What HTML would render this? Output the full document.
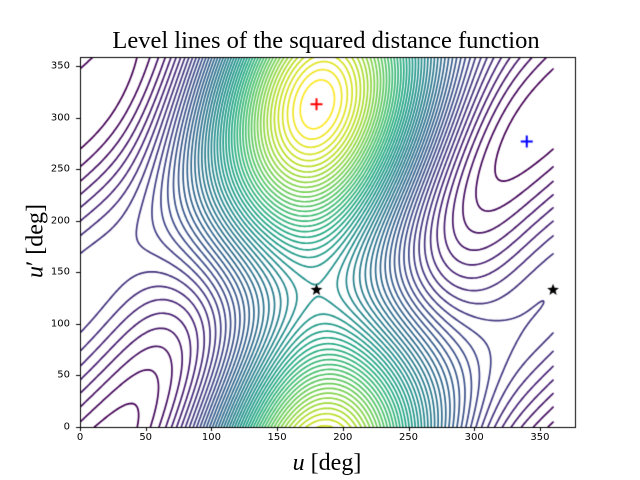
<!DOCTYPE html>
<html><head><meta charset="utf-8"><style>
html,body{margin:0;padding:0;background:#fff;}
#w{position:relative;width:640px;height:480px;overflow:hidden;font-family:"DejaVu Sans",sans-serif;}
canvas{position:absolute;left:0;top:0;}
.t{position:absolute;font-size:10px;color:#000;white-space:nowrap;}
.xl{transform:translateX(-50%);top:432px;}
.yl{right:570px;transform:translateY(-50%);}
.ser{font-family:"Liberation Serif","DejaVu Serif",serif;position:absolute;white-space:nowrap;}
</style></head><body><div id="w">
<canvas id="c" width="640" height="480"></canvas>
<div class="ser" style="left:326px;top:27px;transform:translateX(-50%);font-size:24.5px;">Level lines of the squared distance function</div>
<div class="ser" style="left:327px;top:450px;transform:translateX(-50%);font-size:24px;"><i>u</i> [deg]</div>
<div class="ser" style="left:36px;top:241px;transform:translate(-50%,-50%) rotate(-90deg);font-size:24px;"><i>u</i>′ [deg]</div>
<div id="lab"></div>
</div>
<script>
const X0=80,X1=576,Y0=427,Y1=57,SX=1.314,SY=1.031;
const px=u=>X0+u*SX, py=v=>Y0-v*SY;
const lab=document.getElementById('lab');
let h='';
for(let t=0;t<=350;t+=50){h+=`<div class="t xl" style="left:${px(t)}px">${t}</div>`;h+=`<div class="t yl" style="top:${py(t)}px">${t}</div>`;}
lab.innerHTML=h;
const D=Math.PI/180;
function B(u,v){const cu=Math.cos(u),su=Math.sin(u),cv=Math.cos(v),sv=Math.sin(v);
return [1,cu,su,Math.cos(2*u),cv,sv,Math.cos(2*v),cu*cv,cu*sv,su*cv,su*sv];}
function Bu(u,v){const cu=Math.cos(u),su=Math.sin(u),cv=Math.cos(v),sv=Math.sin(v);
return [0,-su,cu,-2*Math.sin(2*u),0,0,0,-su*cv,-su*sv,cu*cv,cu*sv];}
function Bv(u,v){const cu=Math.cos(u),su=Math.sin(u),cv=Math.cos(v),sv=Math.sin(v);
return [0,0,0,0,-sv,cv,-2*Math.sin(2*v),-cu*sv,cu*cv,-su*sv,su*cv];}
const rows=[],rhs=[];
function add(r,b,w){rows.push(r.map(x=>x*w));rhs.push(b*w);}
const crit=[[180,313,1],[340,277,0],[180,133,0.47],[360,133,0.18]];
for(const [u,v,val] of crit){add(Bu(u*D,v*D),0,6);add(Bv(u*D,v*D),0,6);add(B(u*D,v*D),val,3);}
const extra=[[76,360,.15],[114,360,.35],[152,360,.5],[190,360,.85],[228,360,.8],[253,360,.55],[304,360,.2],[342,360,.05],
[100,200,.33],[260,200,.3],[50,130,.15],[280,130,.2],[190,50,.65],[100,50,.25],[300,50,.12],[0,0,.03],
[130,230,.55],[230,100,.45],[150,30,.5],[250,60,.55],[30,250,.1],[60,300,.2],[300,250,.1],[260,250,.35],
[300,100,.2],[50,80,.08],[20,20,.03],[100,100,.25],[140,180,.45],[230,250,.55],[200,250,.7],
[330,50,.1],[270,0,.3],[320,0,.12],[120,300,.35],[90,150,.2],[220,180,.45],[160,100,.45]];
for(const [u,v,val] of extra)add(B(u*D,v*D),val,1);
const n=11;const M=[];for(let i=0;i<n;i++){M.push(new Array(n+1).fill(0));}
for(let k=0;k<rows.length;k++){const r=rows[k];for(let i=0;i<n;i++){for(let j=0;j<n;j++)M[i][j]+=r[i]*r[j];M[i][n]+=r[i]*rhs[k];}}
for(let i=0;i<n;i++)M[i][i]+=1e-6;
for(let i=0;i<n;i++){let p=i;for(let r=i+1;r<n;r++)if(Math.abs(M[r][i])>Math.abs(M[p][i]))p=r;[M[i],M[p]]=[M[p],M[i]];
for(let r=0;r<n;r++){if(r==i)continue;const f=M[r][i]/M[i][i];for(let c=i;c<=n;c++)M[r][c]-=f*M[i][c];}}
const co=M.map((r,i)=>r[n]/r[i]);
const f=(u,v)=>{const b=B(u*D,v*D);let s=0;for(let i=0;i<n;i++)s+=b[i]*co[i];return s;};
const N=241,st=360/(N-1);const G=[];let fmin=1e9,fmax=-1e9;
for(let i=0;i<N;i++){G.push([]);for(let j=0;j<N;j++){const z=f(i*st,j*st);G[i].push(z);if(z<fmin)fmin=z;if(z>fmax)fmax=z;}}
const stops=[[68,1,84],[72,36,117],[65,68,135],[53,95,141],[42,120,142],[33,145,140],[34,168,132],[68,191,112],[122,209,81],[189,223,38],[253,231,37]];
function vir(t){t=Math.max(0,Math.min(1,t))*10;const i=Math.min(9,Math.floor(t)),fr=t-i;const a=stops[i],b=stops[i+1];return `rgb(${a.map((x,k)=>Math.round(x+(b[k]-x)*fr)).join(',')})`;}
const ctx=document.getElementById('c').getContext('2d');
ctx.save();ctx.beginPath();ctx.rect(X0,Y1,X1-X0,Y0-Y1);ctx.clip();
ctx.lineWidth=1.7;ctx.lineCap='round';ctx.lineJoin='round';
const NL=50;
for(let l=1;l<NL;l++){
 const L=fmin+(fmax-fmin)*l/NL;ctx.strokeStyle=vir((l-1)/(NL-2));ctx.beginPath();
 for(let i=0;i<N-1;i++)for(let j=0;j<N-1;j++){
  const a=G[i][j],b=G[i+1][j],c=G[i+1][j+1],d=G[i][j+1];
  const e=(z1,z2,x1,y1,x2,y2)=>{const t=(L-z1)/(z2-z1);return [x1+(x2-x1)*t,y1+(y2-y1)*t];};
  const u0=i*st,u1=(i+1)*st,v0=j*st,v1=(j+1)*st;
  const E=[];
  if((a<L)!=(b<L))E.push(e(a,b,u0,v0,u1,v0));
  if((b<L)!=(c<L))E.push(e(b,c,u1,v0,u1,v1));
  if((c<L)!=(d<L))E.push(e(c,d,u1,v1,u0,v1));
  if((d<L)!=(a<L))E.push(e(d,a,u0,v1,u0,v0));
  if(E.length==2){ctx.moveTo(px(E[0][0]),py(E[0][1]));ctx.lineTo(px(E[1][0]),py(E[1][1]));}
  else if(E.length==4){const m=(a+b+c+d)/4;
   if((m<L)==(a<L)){ctx.moveTo(px(E[0][0]),py(E[0][1]));ctx.lineTo(px(E[1][0]),py(E[1][1]));ctx.moveTo(px(E[2][0]),py(E[2][1]));ctx.lineTo(px(E[3][0]),py(E[3][1]));}
   else{ctx.moveTo(px(E[0][0]),py(E[0][1]));ctx.lineTo(px(E[3][0]),py(E[3][1]));ctx.moveTo(px(E[1][0]),py(E[1][1]));ctx.lineTo(px(E[2][0]),py(E[2][1]));}}
 }
 ctx.stroke();
}
ctx.restore();
ctx.strokeStyle='#000';ctx.lineWidth=1;ctx.strokeRect(X0+0.5,Y1+0.5,X1-X0-1,Y0-Y1);
ctx.beginPath();
for(let t=0;t<=350;t+=50){const x=Math.round(px(t))+0.5;ctx.moveTo(x,Y0);ctx.lineTo(x,Y0+4);const y=Math.round(py(t))+0.5;ctx.moveTo(X0,y);ctx.lineTo(X0-4,y);}
ctx.stroke();
function plus(u,v,col){const x=px(u),y=py(v);ctx.strokeStyle=col;ctx.lineWidth=2;ctx.beginPath();ctx.moveTo(x-6,y);ctx.lineTo(x+6,y);ctx.moveTo(x,y-6);ctx.lineTo(x,y+6);ctx.stroke();}
function star(u,v){const x=px(u),y=py(v);ctx.fillStyle='#000';ctx.beginPath();for(let k=0;k<10;k++){const r=k%2?2.6:6.2,a=-Math.PI/2+k*Math.PI/5;ctx.lineTo(x+r*Math.cos(a),y+r*Math.sin(a));}ctx.closePath();ctx.fill();}
plus(180,313,'#f00');plus(340,277,'#00f');star(180,133);star(360,133);
</script></body></html>
